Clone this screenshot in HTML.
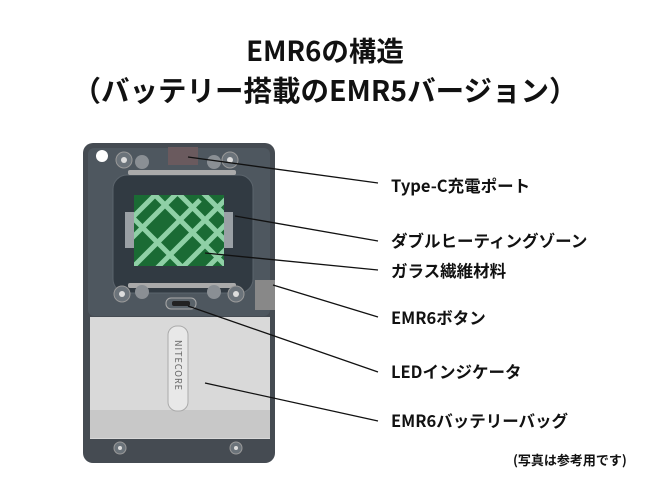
<!DOCTYPE html>
<html><head><meta charset="utf-8"><style>
body{margin:0;width:649px;height:477px;background:#fff;overflow:hidden;font-family:"Noto Sans CJK JP",sans-serif;}
</style></head><body>
<svg width="649" height="477" xmlns="http://www.w3.org/2000/svg" font-family="'Noto Sans CJK JP',sans-serif">
<text x="325" y="61" text-anchor="middle" font-size="27.5" font-weight="bold" fill="#111">EMR6の構造</text>
<text x="325" y="101" text-anchor="middle" font-size="28.5" font-weight="bold" fill="#111">（バッテリー搭載のEMR5バージョン）</text>
<defs>
<clipPath id="g"><rect x="134" y="195" width="90" height="71"/></clipPath>
</defs>
<rect x="83" y="143" width="192" height="320" rx="10" fill="#454b52"/>
<rect x="88" y="148" width="182" height="168" rx="6" fill="#4e575f"/>
<rect x="113" y="175" width="140" height="118" rx="14" fill="#313a42" stroke="#5b646c"/>
<circle cx="102" cy="156" r="6" fill="#fff"/>
<circle cx="124" cy="160" r="8" fill="#6b737a" stroke="#999"/><circle cx="124" cy="160" r="3" fill="#ddd"/>
<circle cx="230" cy="160" r="8" fill="#6b737a" stroke="#999"/><circle cx="230" cy="160" r="3" fill="#ddd"/>
<circle cx="142" cy="162" r="7" fill="#8a8f94"/><circle cx="214" cy="162" r="7" fill="#8a8f94"/>
<rect x="168" y="147" width="30" height="18" fill="#6a5a5e"/>
<rect x="128" y="170" width="108" height="5" rx="2" fill="#aaa"/>
<rect x="128" y="283" width="108" height="5" rx="2" fill="#aaa"/>
<rect x="125" y="212" width="12" height="36" fill="#9aa0a5"/>
<rect x="221" y="212" width="12" height="36" fill="#9aa0a5"/>
<rect x="134" y="195" width="90" height="71" fill="#1a6b34"/>
<g clip-path="url(#g)" stroke="#8fd0a6" stroke-width="5">
<line x1="120" y1="250" x2="180" y2="190"/><line x1="130" y1="270" x2="200" y2="200"/>
<line x1="150" y1="275" x2="230" y2="195"/><line x1="175" y1="275" x2="240" y2="210"/>
<line x1="200" y1="275" x2="240" y2="235"/><line x1="130" y1="220" x2="160" y2="190"/>
<line x1="150" y1="190" x2="230" y2="270"/><line x1="175" y1="190" x2="240" y2="255"/>
<line x1="130" y1="215" x2="185" y2="270"/><line x1="200" y1="190" x2="240" y2="230"/>
</g>
<circle cx="122" cy="294" r="8" fill="#6b737a" stroke="#999"/><circle cx="122" cy="294" r="3" fill="#ddd"/>
<circle cx="236" cy="294" r="8" fill="#6b737a" stroke="#999"/><circle cx="236" cy="294" r="3" fill="#ddd"/>
<circle cx="142" cy="292" r="7" fill="#8a8f94"/><circle cx="214" cy="292" r="7" fill="#8a8f94"/>
<rect x="166" y="298" width="30" height="11" rx="5" fill="#5a636a" stroke="#aaa"/>
<rect x="172" y="301" width="18" height="5" rx="2" fill="#222"/>
<rect x="255" y="280" width="20" height="30" fill="#888"/>
<rect x="90" y="317" width="180" height="122" fill="#d9d9d9"/>
<rect x="90" y="410" width="180" height="28" fill="#c8c8c8"/>
<rect x="168" y="326" width="20" height="85" rx="9" fill="#e8e8e8" stroke="#aaa"/>
<text x="175" y="340" font-size="9" fill="#666" transform="rotate(90 175 340)" letter-spacing="1">NITECORE</text>
<circle cx="120" cy="448" r="6" fill="#6b737a" stroke="#999"/><circle cx="120" cy="448" r="2" fill="#ddd"/>
<circle cx="236" cy="448" r="6" fill="#6b737a" stroke="#999"/><circle cx="236" cy="448" r="2" fill="#ddd"/>
<g stroke="#111" stroke-width="1.3">
<line x1="188" y1="157" x2="378" y2="183"/>
<line x1="235" y1="216" x2="378" y2="241"/>
<line x1="205" y1="253" x2="378" y2="270"/>
<line x1="273" y1="285" x2="378" y2="317"/>
<line x1="188" y1="306" x2="378" y2="372"/>
<line x1="205" y1="383" x2="378" y2="421"/>
</g>
<g font-size="16.5" font-weight="bold" fill="#111">
<text x="391" y="192">Type-C充電ポート</text>
<text x="391" y="247">ダブルヒーティングゾーン</text>
<text x="391" y="277">ガラス繊維材料</text>
<text x="391" y="324">EMR6ボタン</text>
<text x="391" y="378">LEDインジケータ</text>
<text x="391" y="427">EMR6バッテリーバッグ</text>
</g>
<text x="513" y="465" font-size="13" font-weight="bold" fill="#111">(写真は参考用です)</text>
</svg>
</body></html>
